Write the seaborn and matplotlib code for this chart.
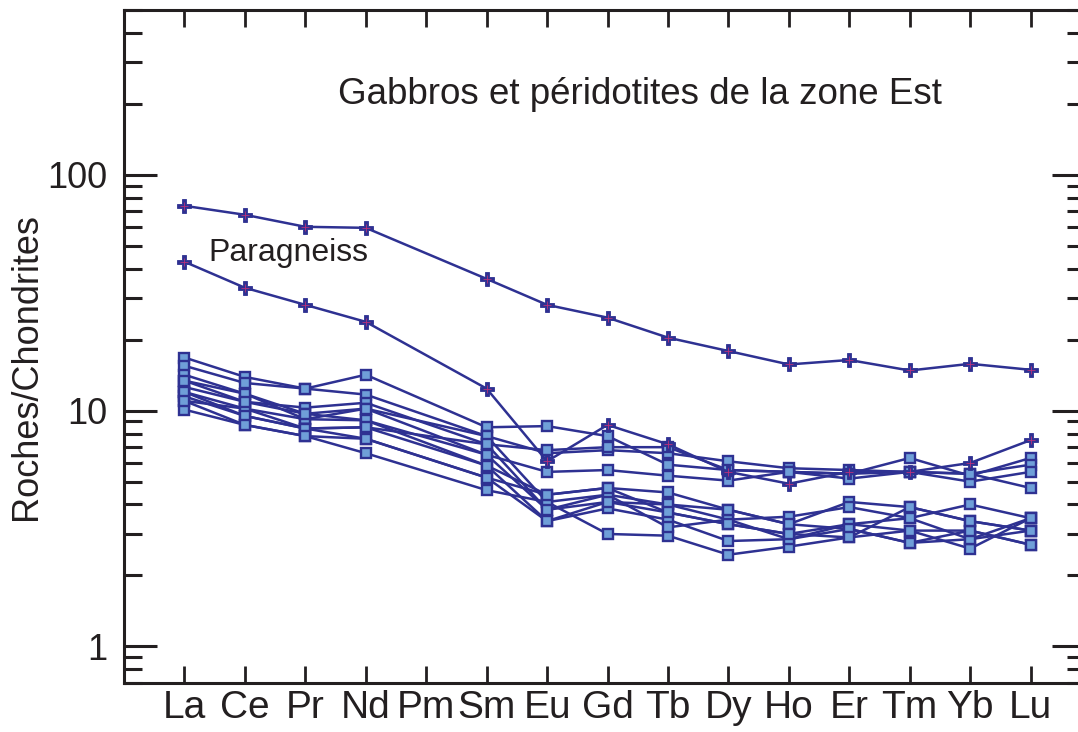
import numpy as np
import pandas as pd
import matplotlib.pyplot as plt
import matplotlib.ticker as mticker
import seaborn as sns

# REE (Pm not analysed, lines jump from Nd to Sm)
elements = ["La", "Ce", "Pr", "Nd", "Pm", "Sm", "Eu", "Gd", "Tb", "Dy", "Ho", "Er", "Tm", "Yb", "Lu"]
measured = ["La", "Ce", "Pr", "Nd", "Sm", "Eu", "Gd", "Tb", "Dy", "Ho", "Er", "Tm", "Yb", "Lu"]

# Paragneiss (normalised to chondrites)
para_1 = [73.9, 67.7, 60.2, 59.6, 36.2, 28.1, 24.8, 20.4, 17.9, 15.7, 16.4, 14.8, 15.8, 14.9]
para_2 = [42.8, 33.2, 28.1, 23.8, 12.4, 6.1, 8.7, 7.2, 5.5, 4.9, 5.5, 5.5, 6.0, 7.5]

# Gabbros et péridotites
gab_01 = [16.8, 13.9, 12.4, 14.2, 8.5, 8.6, 7.8, 5.9, 5.6, 5.5, 5.4, 6.3, 5.3, 6.3]
gab_02 = [15.5, 13.1, 12.4, 11.7, 7.8, 6.6, 6.8, 6.6, 6.1, 5.7, 5.6, 5.5, 5.4, 5.9]
gab_03 = [12.6, 10.9, 10.3, 10.8, 7.2, 6.8, 7.0, 7.0, 5.6, 5.5, 5.4, 5.5, 5.0, 5.5]
gab_04 = [13.4, 11.8, 9.7, 10.2, 6.5, 5.5, 5.6, 5.3, 5.05, 5.5, 5.15, 5.5, 5.4, 4.7]
gab_05 = [14.2, 11.8, 9.2, 9.1, 5.85, 4.4, 4.7, 4.5, 3.8, 3.3, 4.1, 3.9, 3.4, 3.1]
gab_06 = [12.0, 10.2, 9.2, 10.2, 7.8, 4.1, 4.4, 4.0, 3.45, 3.55, 3.9, 3.5, 4.0, 3.5]
gab_07 = [11.5, 9.5, 8.4, 8.5, 7.2, 3.8, 4.1, 3.7, 3.3, 3.0, 3.3, 3.1, 3.1, 2.7]
gab_08 = [11.0, 10.2, 8.4, 7.6, 5.2, 3.4, 3.85, 3.45, 2.8, 2.85, 3.15, 2.75, 2.85, 3.5]
gab_09 = [10.1, 8.7, 7.8, 6.6, 4.6, 4.1, 3.0, 2.95, 2.45, 2.65, 2.9, 3.1, 2.6, 3.5]
gab_10 = [13.4, 10.9, 9.7, 9.1, 6.5, 3.8, 4.4, 3.2, 3.45, 2.85, 3.3, 3.5, 2.85, 3.1]
gab_11 = [12.0, 9.5, 8.4, 8.5, 5.85, 3.4, 4.1, 4.0, 3.8, 3.3, 3.15, 2.75, 3.1, 2.7]
gab_12 = [11.0, 8.7, 7.8, 7.6, 5.2, 4.4, 4.7, 3.7, 3.3, 3.0, 2.9, 3.9, 3.4, 3.1]

# long tables
pos = [elements.index(e) for e in measured]

def long_table(series):
    rows = []
    for name, vals in series.items():
        for p, v in zip(pos, vals):
            rows.append({"sample": name, "pos": p, "val": v})
    return pd.DataFrame(rows)

gab = long_table({"g01": gab_01, "g02": gab_02, "g03": gab_03, "g04": gab_04,
                  "g05": gab_05, "g06": gab_06, "g07": gab_07, "g08": gab_08,
                  "g09": gab_09, "g10": gab_10, "g11": gab_11, "g12": gab_12})
para = long_table({"p1": para_1, "p2": para_2})

sns.set_style("ticks")
plt.rcParams["font.family"] = ["Liberation Sans", "DejaVu Sans"]
ink = "#231f20"
blue = "#2e3192"
light = "#6f9fd8"

fig = plt.figure(figsize=(10.78, 7.32), dpi=100)
ax = fig.add_axes([124 / 1078, 49 / 732, 961 / 1078, 673 / 732])

sns.lineplot(data=gab, x="pos", y="val", units="sample", estimator=None, sort=False,
             color=blue, lw=1.8, marker="s", markersize=7.8,
             markerfacecolor=light, markeredgecolor=blue, markeredgewidth=1.7,
             legend=False, ax=ax)
sns.lineplot(data=para, x="pos", y="val", units="sample", estimator=None, sort=False,
             color=blue, lw=1.8, marker="P", markersize=10.5,
             markerfacecolor=blue, markeredgecolor=blue, markeredgewidth=0.6,
             legend=False, ax=ax)
sns.scatterplot(data=para, x="pos", y="val", marker="+", color="#b8307c",
                s=30, linewidth=0.6, legend=False, ax=ax, zorder=5)

ax.set_yscale("log")
ax.set_ylim(0.7, 500)
ax.set_xlim(-1, 14.9)
ax.set_xticks(range(len(elements)))
ax.set_xticklabels(elements)
ax.yaxis.set_major_locator(mticker.FixedLocator([1, 10, 100]))
ax.yaxis.set_major_formatter(mticker.FixedFormatter(["1", "10", "100"]))
ax.yaxis.set_minor_locator(mticker.LogLocator(base=10, subs=np.arange(2, 10)))
ax.yaxis.set_minor_formatter(mticker.NullFormatter())
ax.set_xlabel("")
ax.set_ylabel("")
ax.grid(False)

ax.spines["right"].set_visible(False)
for s in ["left", "top", "bottom"]:
    ax.spines[s].set_linewidth(2.2)
    ax.spines[s].set_color(ink)

ax.tick_params(axis="x", which="major", direction="in", top=True, bottom=True,
               length=12, width=2.0, color=ink, labelsize=28, labelcolor=ink, pad=5)
ax.tick_params(axis="y", which="major", direction="in", left=True, right=True,
               length=24, width=2.2, color=ink, labelsize=26, labelcolor=ink, pad=12)
ax.tick_params(axis="y", which="minor", direction="in", left=True, right=True,
               length=13, width=2.2, color=ink)

fig.text(27 / 1078, 1 - 367 / 732, "Roches/Chondrites", rotation=90,
         ha="center", va="center", fontsize=26, color=ink)
fig.text(640 / 1078, 1 - 104 / 732, "Gabbros et péridotites de la zone Est",
         ha="center", va="baseline", fontsize=26.5, color=ink)
fig.text(208 / 1078, 1 - 261 / 732, "Paragneiss",
         ha="left", va="baseline", fontsize=23, color=ink)

fig.savefig("out.png", dpi=100)
